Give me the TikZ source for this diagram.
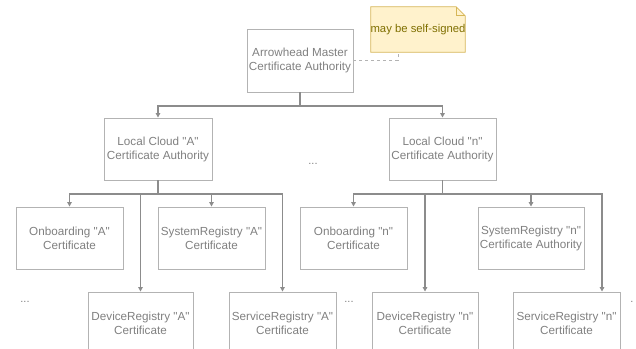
\documentclass[tikz,border=0pt]{standalone}
\usepackage{fontspec}
\setmainfont{Liberation Sans}
\usetikzlibrary{arrows.meta}
\definecolor{boxline}{HTML}{B3B3B3}
\definecolor{boxtext}{HTML}{808080}
\definecolor{conn}{HTML}{8C8C8C}
\definecolor{notefill}{HTML}{FFF2CC}
\definecolor{noteline}{HTML}{D6B656}
\definecolor{notetext}{HTML}{7F6F00}
\newcommand{\qq}[1]{\textquotedbl#1\textquotedbl}
\tikzset{
  cbox/.style={draw=boxline, line width=0.9pt, text=boxtext, minimum width=107pt, minimum height=62pt, align=center, inner sep=0pt, font=\fontsize{11.7}{14}\selectfont},
  conn/.style={draw=conn, line width=1.2pt, -{Triangle[length=4.5pt,width=4.5pt]}},
  plainconn/.style={draw=conn, line width=1.2pt},
  dots/.style={text=boxtext, font=\fontsize{11}{13}\selectfont, inner sep=0pt, anchor=base},
  notebox/.style={minimum width=94pt, minimum height=45pt, inner sep=0pt, text=notetext, font=\fontsize{11.3}{14}\selectfont},
}
\begin{document}
\begin{tikzpicture}[x=1pt,y=-1pt]
\useasboundingbox (0,0) rectangle (636,348);
\clip (0,0) rectangle (636,348);
% note
\node[notebox] (note) at (418,29.5) {};
\draw[draw=noteline, fill=notefill, line width=0.8pt] (note.north west) -- ([xshift=-9pt]note.north east) -- ([yshift=-9pt]note.north east) -- (note.south east) -- (note.south west) -- cycle;
\draw[draw=noteline, line width=0.8pt] ([xshift=-9pt]note.north east) -- ([xshift=-9pt,yshift=-9pt]note.north east) -- ([yshift=-9pt]note.north east);
\node[notebox] (notetxt) at (note) {may be self-signed};

% boxes
\node[cbox, minimum width=106pt, minimum height=63pt] (master) at (300,60.5) {Arrowhead Master\\Certificate Authority};
\node[cbox, minimum width=108pt] (la) at (158,149) {Local Cloud \qq{A}\\Certificate Authority};
\node[cbox] (ln) at (442.5,149) {Local Cloud \qq{n}\\Certificate Authority};
\node[cbox] (oa) at (69.5,238) {Onboarding \qq{A}\\Certificate};
\node[cbox] (sa) at (211.5,238) {SystemRegistry \qq{A}\\Certificate};
\node[cbox, minimum width=105pt] (da) at (140.5,323) {DeviceRegistry \qq{A}\\Certificate};
\node[cbox] (va) at (282.5,323) {ServiceRegistry \qq{A}\\Certificate};
\node[cbox] (on) at (353.5,238) {Onboarding \qq{n}\\Certificate};
\node[cbox, minimum width=106pt] (sn) at (531,238) {SystemRegistry \qq{n}\\Certificate Authority};
\node[cbox, minimum width=106pt] (dn) at (425,323) {DeviceRegistry \qq{n}\\Certificate};
\node[cbox] (vn) at (566.5,323) {ServiceRegistry \qq{n}\\Certificate};

% dots
\node[dots] (d1) at (25,302) {...};
\node[dots] (d2) at (313,164) {...};
\node[dots] (d3) at (349,302) {...};
\node[dots] (d4) at (632,302) {.};

% connectors
\coordinate (j0) at (300,106);
\coordinate (ja) at (158,194);
\coordinate (jn) at (442.5,194);
\coordinate (vnt) at ([xshift=35.5pt]vn.north);
\draw[plainconn] (master.south) -- (j0);
\draw[conn] (j0) -| (la.north);
\draw[conn] (j0) -| (ln.north);
\draw[plainconn] (la.south) -- (ja);
\draw[conn] (ja) -| (oa.north);
\draw[conn] (ja) -| (da.north);
\draw[conn] (ja) -| (sa.north);
\draw[conn] (ja) -| (va.north);
\draw[plainconn] (ln.south) -- (jn);
\draw[conn] (jn) -| (on.north);
\draw[conn] (jn) -| (dn.north);
\draw[conn] (jn) -| (sn.north);
\draw[conn] (jn) -| (vnt);

% dashed note link
\draw[draw=boxline, line width=0.9pt, dashed] (master.east) -| ([xshift=-20pt]note.south);
\end{tikzpicture}
\end{document}
